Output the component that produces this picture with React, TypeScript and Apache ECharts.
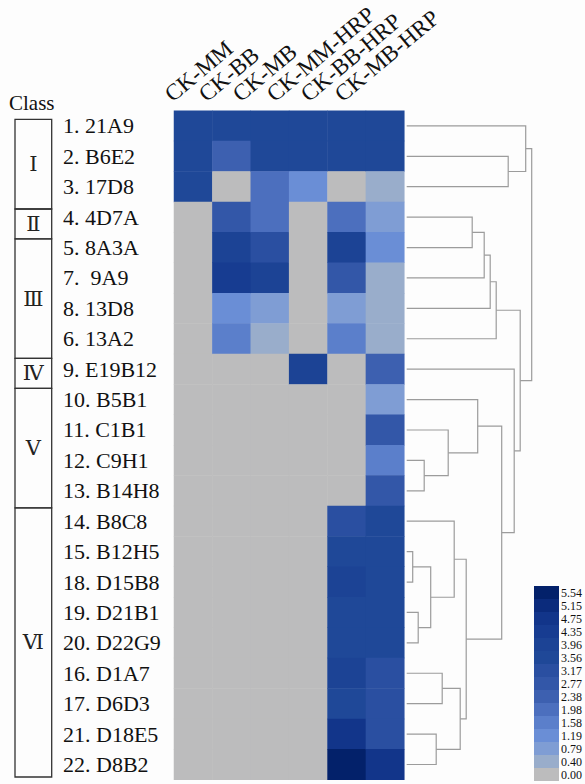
import React, { useEffect, useRef } from "react";
import * as echarts from "echarts";

// ---------- data ----------
const columns = ["CK-MM", "CK-BB", "CK-MB", "CK-MM-HRP", "CK-BB-HRP", "CK-MB-HRP"];

const rowLabels = [
  "1. 21A9", "2. B6E2", "3. 17D8", "4. 4D7A", "5. 8A3A", "7.  9A9", "8. 13D8", "6. 13A2",
  "9. E19B12", "10. B5B1", "11. C1B1", "12. C9H1", "13. B14H8", "14. B8C8", "15. B12H5",
  "18. D15B8", "19. D21B1", "20. D22G9", "16. D1A7", "17. D6D3", "21. D18E5", "22. D8B2",
];

const ckMM = [3.56, 3.56, 3.56, 0, 0, 0, 0, 0, 0, 0, 0, 0, 0, 0, 0, 0, 0, 0, 0, 0, 0, 0];
const ckBB = [3.56, 2.38, 0, 2.77, 3.96, 4.35, 1.19, 1.58, 0, 0, 0, 0, 0, 0, 0, 0, 0, 0, 0, 0, 0, 0];
const ckMB = [3.56, 3.56, 1.98, 1.98, 3.17, 3.96, 0.79, 0.4, 0, 0, 0, 0, 0, 0, 0, 0, 0, 0, 0, 0, 0, 0];
const ckMMHRP = [3.56, 3.56, 1.19, 0, 0, 0, 0, 0, 3.96, 0, 0, 0, 0, 0, 0, 0, 0, 0, 0, 0, 0, 0];
const ckBBHRP = [3.56, 3.56, 0, 1.98, 3.96, 2.77, 0.79, 1.58, 0, 0, 0, 0, 0, 3.17, 3.56, 3.96, 3.56, 3.56, 3.96, 3.56, 4.75, 5.54];
const ckMBHRP = [3.56, 3.56, 0.4, 0.79, 1.19, 0.4, 0.4, 0.4, 2.38, 0.79, 2.77, 1.58, 2.77, 3.56, 3.56, 3.56, 3.56, 3.56, 3.17, 3.17, 3.17, 4.75];
const columnValues = [ckMM, ckBB, ckMB, ckMMHRP, ckBBHRP, ckMBHRP];

const legendLevels = [0.0, 0.4, 0.79, 1.19, 1.58, 1.98, 2.38, 2.77, 3.17, 3.56, 3.96, 4.35, 4.75, 5.15, 5.54];
const legendColors = [
  "#bcbcbd", "#99adcb", "#7f9dd4", "#6a8ed6", "#5b7fcb", "#4c6fbe", "#3d60b0", "#3357a8",
  "#2a4fa1", "#1f4898", "#1c4395", "#173c91", "#12358a", "#0b2b7c", "#03216a",
];

// dendrogram: children (index < 22 = leaf row, else 22 + merge index) and merge distances
const mergeLeft = [1, 0, 3, 24, 25, 26, 11, 10, 9, 14, 16, 31, 13, 18, 20, 35, 34, 30, 8, 27, 23];
const mergeRight = [2, 22, 4, 5, 6, 7, 12, 28, 29, 15, 17, 32, 33, 19, 21, 36, 37, 38, 39, 40, 41];
const mergeHeight = [20.3, 23.8, 13.1, 15.5, 16.7, 17.9, 3.5, 8.3, 14.2, 1.2, 2.3, 4.8, 9.5, 7.1, 5.9, 10.7, 11.9, 19.0, 21.5, 22.7, 25.0];

const classNames = ["Ⅰ", "Ⅱ", "Ⅲ", "Ⅳ", "Ⅴ", "Ⅵ"];
const classRowCounts = [3, 1, 4, 1, 4, 9];

const SERIF = "'Liberation Serif', 'Times New Roman', serif";

function buildOption() {
  const heatData: number[][] = [];
  columnValues.forEach((vals, c) => vals.forEach((v, r) => heatData.push([c, r, v])));

  const n = rowLabels.length;
  const nodeY: number[] = rowLabels.map((_, i) => i);
  const nodeH: number[] = rowLabels.map(() => 0);
  const dendroData: number[][] = [];
  mergeHeight.forEach((h, i) => {
    const a = mergeLeft[i];
    const b = mergeRight[i];
    nodeY[n + i] = (nodeY[a] + nodeY[b]) / 2;
    nodeH[n + i] = h;
    dendroData.push([nodeY[a], nodeY[b], nodeH[a], nodeH[b], h]);
  });

  const classData: number[][] = [];
  let start = 0;
  classRowCounts.forEach((cnt, i) => {
    classData.push([start, start + cnt, i]);
    start += cnt;
  });

  const pieces = legendLevels.map((lv, i) => {
    const p: any = { gte: lv, label: lv.toFixed(2), color: legendColors[i] };
    if (i < legendLevels.length - 1) p.lt = legendLevels[i + 1];
    return p;
  });

  return {
    animation: false,
    backgroundColor: "#fdfdfd",
    title: {
      text: "Class",
      left: 9,
      top: 92,
      padding: 0,
      textStyle: { fontFamily: SERIF, fontSize: 21, fontWeight: "normal", color: "#111" },
    },
    grid: [
      { left: 174, width: 230.3, top: 110.7, height: 669 },
      { left: 406.7, width: 125, top: 110.7, height: 669 },
      { left: 15, width: 36.7, top: 119.3, height: 657.7 },
      { left: 151, width: 204, top: 100, height: 1 },
    ],
    xAxis: [
      { gridIndex: 0, type: "category", data: columns, show: false },
      { gridIndex: 1, type: "value", min: 0, max: 25, show: false },
      { gridIndex: 2, type: "value", min: 0, max: 1, show: false },
      {
        gridIndex: 3,
        type: "category",
        data: columns,
        position: "top",
        axisLine: { show: false },
        axisTick: { show: false },
        axisLabel: { rotate: 40, margin: 3, interval: 0, fontFamily: SERIF, fontSize: 23, color: "#111" },
      },
    ],
    yAxis: [
      {
        gridIndex: 0,
        type: "category",
        data: rowLabels,
        inverse: true,
        axisLine: { show: false },
        axisTick: { show: false },
        axisLabel: {
          align: "left",
          margin: 111,
          interval: 0,
          fontFamily: SERIF,
          fontSize: 22,
          color: "#111",
          padding: [4, 0, 0, 0],
        },
      },
      { gridIndex: 1, type: "value", min: -0.5, max: 21.5, inverse: true, show: false },
      { gridIndex: 2, type: "value", min: 0, max: 22, inverse: true, show: false },
      { gridIndex: 3, type: "value", show: false },
    ],
    visualMap: {
      type: "piecewise",
      seriesIndex: 0,
      dimension: 2,
      pieces,
      orient: "vertical",
      left: 534,
      top: 586,
      padding: 0,
      itemWidth: 25,
      itemHeight: 13,
      itemGap: 0,
      itemSymbol: "rect",
      textGap: 2,
      align: "left",
      selectedMode: false,
      textStyle: { fontFamily: SERIF, fontSize: 12, lineHeight: 12, color: "#111" },
    },
    series: [
      {
        type: "heatmap",
        xAxisIndex: 0,
        yAxisIndex: 0,
        data: heatData,
        itemStyle: { borderWidth: 0 },
        emphasis: { disabled: true },
      },
      {
        type: "custom",
        xAxisIndex: 1,
        yAxisIndex: 1,
        clip: false,
        silent: true,
        data: dendroData,
        renderItem: (params: any, api: any) => {
          const yA = api.value(0);
          const yB = api.value(1);
          const hA = api.value(2);
          const hB = api.value(3);
          const h = api.value(4);
          const pts = [api.coord([hA, yA]), api.coord([h, yA]), api.coord([h, yB]), api.coord([hB, yB])];
          return {
            type: "polyline",
            shape: { points: pts },
            style: { stroke: "#9c9c9c", fill: null, lineWidth: 1.2 },
          };
        },
      },
      {
        type: "custom",
        xAxisIndex: 2,
        yAxisIndex: 2,
        clip: false,
        silent: true,
        data: classData,
        renderItem: (params: any, api: any) => {
          const s = api.value(0);
          const e = api.value(1);
          const idx = api.value(2);
          const p0 = api.coord([0, s]);
          const p1 = api.coord([1, e]);
          return {
            type: "group",
            children: [
              {
                type: "rect",
                shape: { x: p0[0], y: p0[1], width: p1[0] - p0[0], height: p1[1] - p0[1] },
                style: { stroke: "#333", fill: "none", lineWidth: 1.3 },
              },
              {
                type: "text",
                style: {
                  text: classNames[idx],
                  x: (p0[0] + p1[0]) / 2,
                  y: (p0[1] + p1[1]) / 2,
                  align: "center",
                  verticalAlign: "middle",
                  font: "21px 'Liberation Serif', 'DejaVu Serif', serif",
                  fill: "#222",
                },
              },
            ],
          };
        },
      },
    ],
  };
}

export default function App() {
  const ref = useRef<HTMLDivElement>(null);
  useEffect(() => {
    if (!ref.current) return;
    const chart = echarts.init(ref.current, null, { renderer: "svg" });
    chart.setOption(buildOption() as any);
    return () => chart.dispose();
  }, []);
  return (
    <div
      ref={ref}
      style={{ position: "fixed", left: 0, top: 0, width: 585, height: 784 }}
    />
  );
}
